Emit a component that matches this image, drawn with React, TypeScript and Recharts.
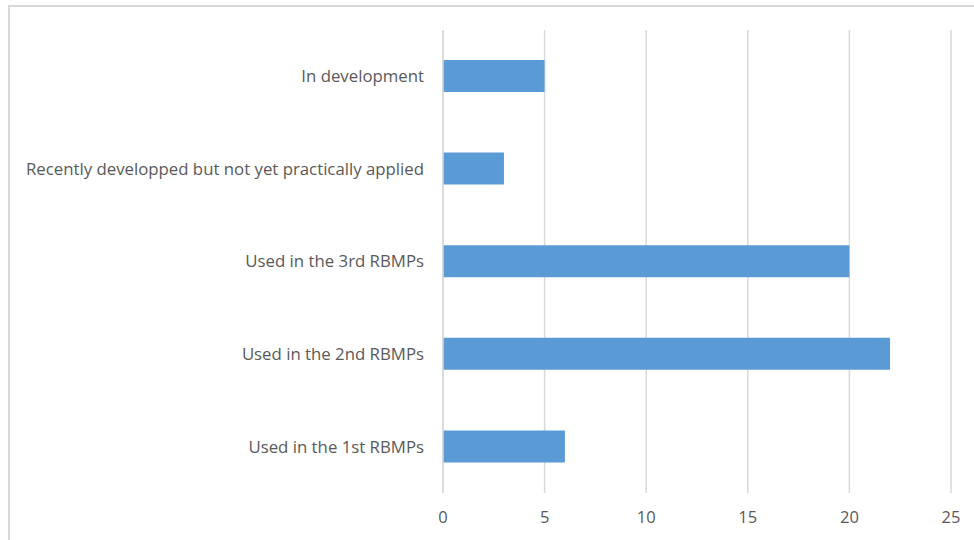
import React from "react";
import { BarChart, Bar, XAxis, YAxis, CartesianGrid } from "recharts";

const categories = [
  "In development",
  "Recently developped but not yet practically applied",
  "Used in the 3rd RBMPs",
  "Used in the 2nd RBMPs",
  "Used in the 1st RBMPs",
];
const counts = [5, 3, 20, 22, 6];
const xTicks = [0, 5, 10, 15, 20, 25];

const data = categories.map((name, i) => ({ name, value: counts[i] }));

const FONT = "'Open Sans', sans-serif";

export default function App() {
  return (
    <div style={{ position: "absolute", left: 0, top: 0, width: 974, height: 540, background: "#fff", overflow: "hidden" }}>
      <div
        style={{
          position: "absolute",
          left: 8,
          top: 5,
          width: 980,
          height: 560,
          borderLeft: "2px solid #d9d9d9",
          borderTop: "2px solid #d9d9d9",
        }}
      />
      <div style={{ position: "absolute", left: 0, top: 0 }}>
        <BarChart
          width={974}
          height={540}
          data={data}
          layout="vertical"
          margin={{ top: 30, right: 23, bottom: 0, left: 0 }}
        >
          <CartesianGrid horizontal={false} stroke="#d9d9d9" strokeWidth={1.5} />
          <XAxis
            type="number"
            domain={[0, 25]}
            ticks={xTicks}
            axisLine={false}
            tickLine={false}
            tickSize={0}
            tickMargin={18}
            height={47}
            tick={{ fill: "#595959", fontSize: 16.5, fontFamily: FONT }}
          />
          <YAxis
            type="category"
            dataKey="name"
            width={443}
            axisLine={{ stroke: "#d9d9d9", strokeWidth: 1.5 }}
            tickLine={false}
            tickSize={0}
            tickMargin={19}
            tick={{ fill: "#595959", fontSize: 16.8, fontFamily: FONT }}
          />
          <Bar dataKey="value" fill="#5B9BD5" barSize={32} isAnimationActive={false} />
        </BarChart>
      </div>
    </div>
  );
}
